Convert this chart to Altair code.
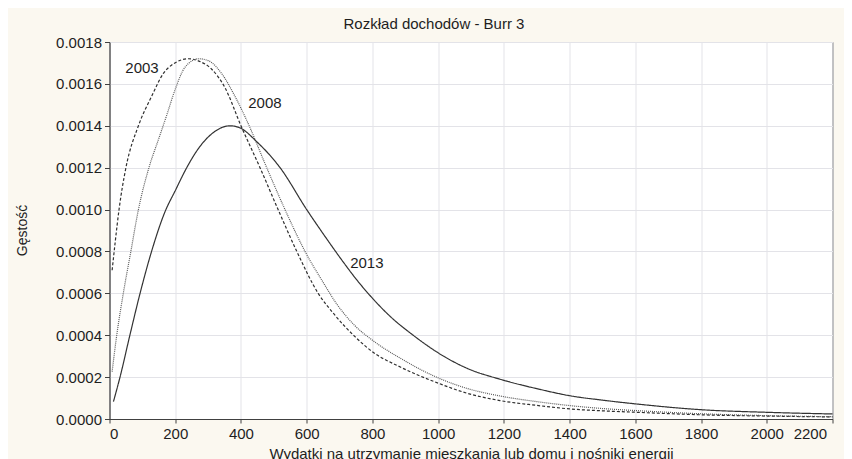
import altair as alt
import pandas as pd

# ---- data ----
series_names = ["2003", "2008", "2013"]

x_2003 = [8, 17, 29, 50, 88, 128, 164, 199, 240, 270, 311, 352, 400, 458, 513, 570,
          635, 681, 747, 801, 885, 1002, 1088, 1188, 1300, 1401, 1500, 1604, 1800, 2000, 2200]
d_2003 = [0.00071, 0.00084, 0.00100, 0.00120, 0.00140, 0.00154, 0.00165, 0.00170, 0.00172,
          0.00171, 0.00167, 0.00158, 0.00140, 0.00120, 0.00100, 0.00080,
          0.00060, 0.000505, 0.000393, 0.00032, 0.000248, 0.00017, 0.000123, 0.000088,
          0.000065, 0.000048, 0.000039, 0.000032, 0.00002, 0.000014, 0.00001]

x_2008 = [8, 22, 42, 65, 88, 120, 148, 174, 199, 230, 272, 302, 341, 382, 425, 473, 534,
          595, 651, 691, 747, 801, 885, 1002, 1088, 1188, 1300, 1401, 1500, 1604, 1800, 2000, 2200]
d_2008 = [0.000226, 0.0004, 0.0006, 0.0008, 0.0010, 0.0012, 0.00133, 0.00145, 0.00157, 0.00168,
          0.00172, 0.00171, 0.00165, 0.00154, 0.0014, 0.00122, 0.0010, 0.0008, 0.00065,
          0.00055, 0.000445, 0.000375, 0.00029, 0.000195, 0.000146, 0.00011, 0.000083, 0.000064,
          0.00005, 0.00004, 0.000025, 0.000016, 0.000011]

x_2013 = [12, 32, 62, 93, 128, 169, 200, 235, 270, 310, 367, 397, 448, 519, 600, 661, 711, 752,
          801, 854, 924, 1002, 1088, 1188, 1300, 1401, 1500, 1604, 1800, 2000, 2200]
d_2013 = [0.000083, 0.0002, 0.0004, 0.0006, 0.0008, 0.00099, 0.00109, 0.0012, 0.00129, 0.00136,
          0.0014, 0.00139, 0.001324, 0.0012, 0.0010, 0.00086, 0.00075, 0.000665, 0.000575,
          0.00049, 0.0004, 0.000314, 0.000242, 0.00019, 0.000145, 0.000111, 0.00009,
          0.0000716, 0.0000444, 0.000032, 0.000024]

label_x = [99, 473, 783]
label_d = [0.001676, 0.001509, 0.000747]

x_ticks = [0, 200, 400, 600, 800, 1000, 1200, 1400, 1600, 1800, 2000, 2200]
y_ticks = [0.0, 0.0002, 0.0004, 0.0006, 0.0008, 0.0010, 0.0012, 0.0014, 0.0016, 0.0018]

rows = []
for name, xs, ds in [("2003", x_2003, d_2003), ("2008", x_2008, d_2008), ("2013", x_2013, d_2013)]:
    for a, b in zip(xs, ds):
        rows.append({"series": name, "x": a, "d": b})
df = pd.DataFrame(rows)
labels_df = pd.DataFrame({"series": series_names, "x": label_x, "d": label_d})

FONT = "Liberation Sans"
TXT = "#1e1e1e"

x_enc = alt.X("x:Q", scale=alt.Scale(domain=[0, 2200], nice=False, zero=False),
              axis=alt.Axis(values=x_ticks, title="Wydatki na utrzymanie mieszkania lub domu i nośniki energii",
                            format="d", tickSize=4, labelPadding=3, titleY=39,
                            labelOffset={"condition": {"test": "datum.value == 2200", "value": -6}, "value": 0},
                            titleBaseline="alphabetic", titleFontSize=15, titleFontWeight="normal"))
y_enc = alt.Y("d:Q", scale=alt.Scale(domain=[0, 0.0018], nice=False),
              axis=alt.Axis(values=y_ticks, format=".4f", title="Gęstość", tickSize=5, labelPadding=3,
                            titleX=-87.5, titleY=188, titleAngle=270, titleAlign="center",
                            titleBaseline="middle", titleFontSize=14, titleFontWeight="normal"))

lines = alt.Chart(df).mark_line(interpolate="monotone", strokeWidth=1.2).encode(
    x=x_enc,
    y=y_enc,
    color=alt.Color("series:N", scale=alt.Scale(domain=series_names, range=["#2f2f2f", "#5a5a5a", "#333333"]),
                    legend=None),
    strokeDash=alt.StrokeDash("series:N", scale=alt.Scale(domain=series_names, range=[[3, 2], [1, 1], [1, 0]]),
                              legend=None),
    detail="series:N",
)

texts = alt.Chart(labels_df).mark_text(font=FONT, fontSize=15, color=TXT, align="center", baseline="middle").encode(
    x="x:Q", y="d:Q", text="series:N"
)

chart = alt.layer(lines, texts).properties(
    width=723,
    height=377,
    title=alt.TitleParams("Rozkład dochodów - Burr 3", font=FONT, fontSize=15, fontWeight="normal",
                          color=TXT, anchor="middle", dx=-37, dy=21, baseline="alphabetic", offset=12),
    autosize=alt.AutoSizeParams(type="none"),
    padding={"left": 101.5, "top": 34, "right": 11.5, "bottom": 50},
    background="#fbf8f0",
).configure_view(
    fill="white", stroke="#454545", strokeWidth=1
).configure_axis(
    domainColor="#404040", tickColor="#404040", gridColor="#e3e3e8", gridWidth=1,
    labelFont=FONT, labelFontSize=15, labelColor=TXT, titleFont=FONT, titleColor=TXT,
)

chart.save("out.html", embed_options={"renderer": "svg", "actions": False})
